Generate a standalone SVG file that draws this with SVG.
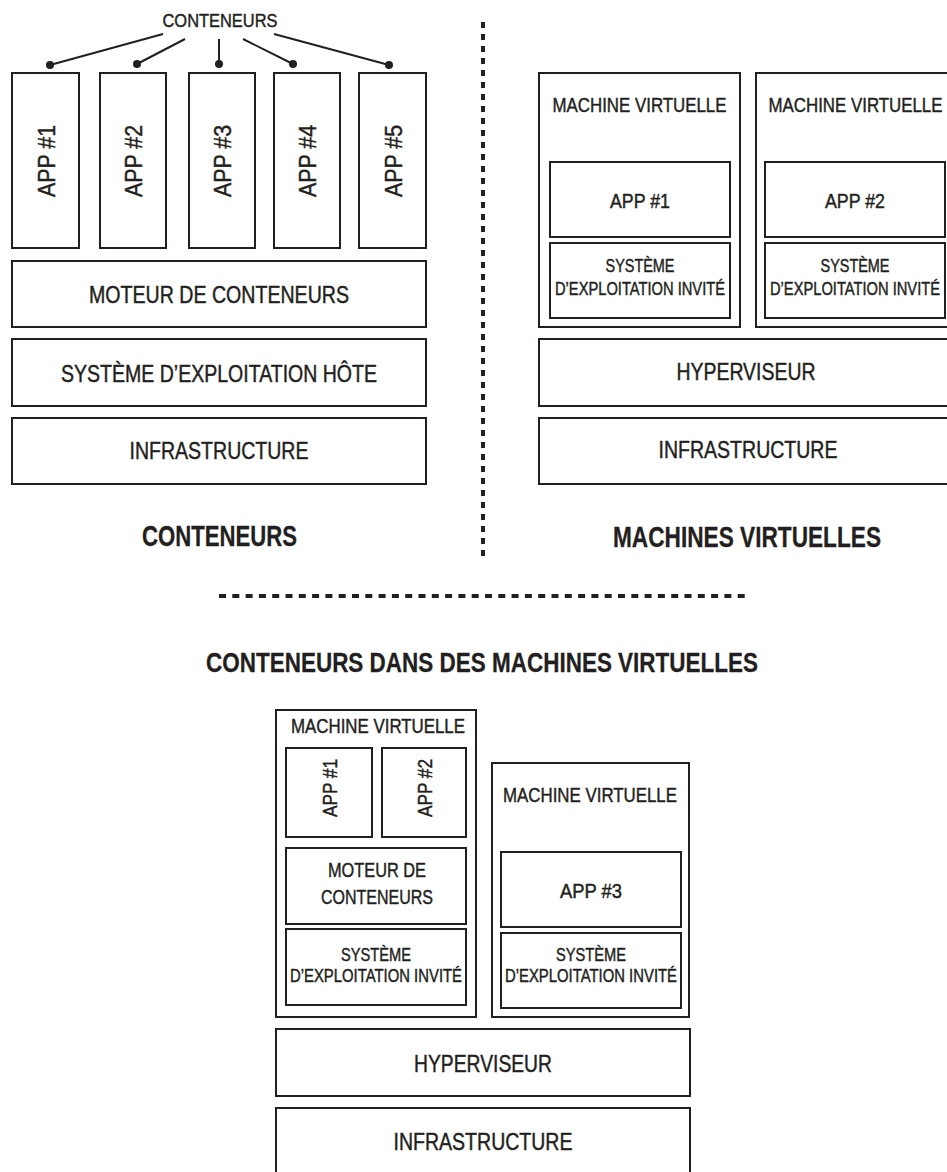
<svg xmlns="http://www.w3.org/2000/svg" width="947" height="1172" viewBox="0 0 947 1172">
<style>
.b{fill:#fff;stroke:#231f20;stroke-width:2}
text{font-family:"Liberation Sans",Arial,sans-serif;fill:#231f20;stroke:#231f20;stroke-width:0.45;text-anchor:middle}
.t24{font-size:24px}
.t21{font-size:21px}
.t18{font-size:18.5px}
.t19{font-size:19px}
.h{font-size:30px;font-weight:bold;stroke-width:0.3}
.h27{font-size:27px;font-weight:bold;stroke-width:0.3}
.c{stroke:#231f20;stroke-width:2;fill:none}
.d{fill:#231f20}
</style>
<rect width="947" height="1172" fill="#fff"/>

<!-- separators -->
<line x1="483" y1="22" x2="483" y2="562" stroke="#231f20" stroke-width="4" stroke-dasharray="6 6"/>
<line x1="219" y1="596" x2="745" y2="596" stroke="#231f20" stroke-width="4" stroke-dasharray="7 6.3"/>

<!-- LEFT: CONTENEURS -->
<g id="label-conteneurs"><text class="t19" x="220" y="27" textLength="115" lengthAdjust="spacingAndGlyphs">CONTENEURS</text></g>
<g id="connectors">
<line class="c" x1="163" y1="34" x2="50" y2="65"/>
<line class="c" x1="185" y1="39" x2="137" y2="64"/>
<line class="c" x1="219" y1="39" x2="219" y2="64"/>
<line class="c" x1="243" y1="39" x2="293" y2="64"/>
<line class="c" x1="274" y1="34" x2="389" y2="65"/>
<circle class="d" cx="50" cy="65" r="4"/>
<circle class="d" cx="137" cy="64" r="4"/>
<circle class="d" cx="219" cy="64" r="4"/>
<circle class="d" cx="293" cy="64" r="4"/>
<circle class="d" cx="389" cy="65" r="4"/>
</g>
<g id="c-app1"><rect class="b" x="12" y="73" width="67" height="175"/><text class="t24" transform="translate(54.5,161) rotate(-90)" textLength="72" lengthAdjust="spacingAndGlyphs">APP #1</text></g>
<g id="c-app2"><rect class="b" x="100" y="73" width="66" height="175"/><text class="t24" transform="translate(142,161) rotate(-90)" textLength="72" lengthAdjust="spacingAndGlyphs">APP #2</text></g>
<g id="c-app3"><rect class="b" x="189" y="73" width="66" height="175"/><text class="t24" transform="translate(231,161) rotate(-90)" textLength="72" lengthAdjust="spacingAndGlyphs">APP #3</text></g>
<g id="c-app4"><rect class="b" x="274" y="73" width="66" height="175"/><text class="t24" transform="translate(316,161) rotate(-90)" textLength="72" lengthAdjust="spacingAndGlyphs">APP #4</text></g>
<g id="c-app5"><rect class="b" x="359" y="73" width="67" height="175"/><text class="t24" transform="translate(401.5,161) rotate(-90)" textLength="72" lengthAdjust="spacingAndGlyphs">APP #5</text></g>
<g id="c-moteur"><rect class="b" x="12" y="261" width="414" height="66"/><text class="t24" x="219" y="303" textLength="260" lengthAdjust="spacingAndGlyphs">MOTEUR DE CONTENEURS</text></g>
<g id="c-os"><rect class="b" x="12" y="339" width="414" height="67"/><text class="t24" x="219" y="382" textLength="316" lengthAdjust="spacingAndGlyphs">SYSTÈME D’EXPLOITATION HÔTE</text></g>
<g id="c-infra"><rect class="b" x="12" y="418" width="414" height="66"/><text class="t24" x="219" y="459" textLength="179" lengthAdjust="spacingAndGlyphs">INFRASTRUCTURE</text></g>
<g id="title-conteneurs"><text class="h" x="219.5" y="546" textLength="155" lengthAdjust="spacingAndGlyphs">CONTENEURS</text></g>

<!-- RIGHT: MACHINES VIRTUELLES -->
<g id="vm1">
<rect class="b" x="539" y="73" width="201" height="254"/>
<text class="t21" x="639.5" y="112" textLength="174" lengthAdjust="spacingAndGlyphs">MACHINE VIRTUELLE</text>
</g>
<g id="vm1-app1"><rect class="b" x="550" y="162" width="180" height="75"/><text class="t21" x="640" y="208" textLength="60" lengthAdjust="spacingAndGlyphs">APP #1</text></g>
<g id="vm1-os"><rect class="b" x="550" y="243" width="180" height="75"/><text class="t18" x="640" y="272" textLength="69" lengthAdjust="spacingAndGlyphs">SYSTÈME</text><text class="t18" x="640" y="295" textLength="170" lengthAdjust="spacingAndGlyphs">D’EXPLOITATION INVITÉ</text></g>
<g id="vm2">
<rect class="b" x="756" y="73" width="201" height="254"/>
<text class="t21" x="855.5" y="112" textLength="174" lengthAdjust="spacingAndGlyphs">MACHINE VIRTUELLE</text>
</g>
<g id="vm2-app2"><rect class="b" x="765" y="162" width="180" height="75"/><text class="t21" x="855" y="208" textLength="60" lengthAdjust="spacingAndGlyphs">APP #2</text></g>
<g id="vm2-os"><rect class="b" x="765" y="243" width="180" height="75"/><text class="t18" x="855" y="272" textLength="69" lengthAdjust="spacingAndGlyphs">SYSTÈME</text><text class="t18" x="855" y="295" textLength="170" lengthAdjust="spacingAndGlyphs">D’EXPLOITATION INVITÉ</text></g>
<g id="vm-hyperviseur"><rect class="b" x="539" y="339" width="418" height="67"/><text class="t24" x="746" y="380" textLength="139" lengthAdjust="spacingAndGlyphs">HYPERVISEUR</text></g>
<g id="vm-infra"><rect class="b" x="539" y="418" width="418" height="66"/><text class="t24" x="748" y="458" textLength="179" lengthAdjust="spacingAndGlyphs">INFRASTRUCTURE</text></g>
<g id="title-vm"><text class="h" x="747" y="547" textLength="268" lengthAdjust="spacingAndGlyphs">MACHINES VIRTUELLES</text></g>

<!-- BOTTOM -->
<g id="title-mixed"><text class="h27" x="482" y="672" textLength="552" lengthAdjust="spacingAndGlyphs">CONTENEURS DANS DES MACHINES VIRTUELLES</text></g>
<g id="m-vm1">
<rect class="b" x="276" y="710" width="200" height="307"/>
<text class="t21" x="378" y="733" textLength="174" lengthAdjust="spacingAndGlyphs">MACHINE VIRTUELLE</text>
</g>
<g id="m-app1"><rect class="b" x="286" y="748" width="86" height="89"/><text class="t21" transform="translate(337,788) rotate(-90)" textLength="58" lengthAdjust="spacingAndGlyphs">APP #1</text></g>
<g id="m-app2"><rect class="b" x="382" y="748" width="84" height="89"/><text class="t21" transform="translate(432,788) rotate(-90)" textLength="58" lengthAdjust="spacingAndGlyphs">APP #2</text></g>
<g id="m-moteur"><rect class="b" x="286" y="848" width="180" height="76"/><text class="t21" x="377" y="877" textLength="98" lengthAdjust="spacingAndGlyphs">MOTEUR DE</text><text class="t21" x="377" y="904" textLength="112" lengthAdjust="spacingAndGlyphs">CONTENEURS</text></g>
<g id="m-os1"><rect class="b" x="286" y="929" width="180" height="76"/><text class="t18" x="376" y="961" textLength="70" lengthAdjust="spacingAndGlyphs">SYSTÈME</text><text class="t18" x="376" y="982" textLength="172" lengthAdjust="spacingAndGlyphs">D’EXPLOITATION INVITÉ</text></g>
<g id="m-vm2">
<rect class="b" x="492" y="763" width="197" height="254"/>
<text class="t21" x="590" y="802" textLength="174" lengthAdjust="spacingAndGlyphs">MACHINE VIRTUELLE</text>
</g>
<g id="m-app3"><rect class="b" x="501" y="852" width="180" height="75"/><text class="t21" x="591" y="898" textLength="62" lengthAdjust="spacingAndGlyphs">APP #3</text></g>
<g id="m-os2"><rect class="b" x="501" y="933" width="180" height="75"/><text class="t18" x="591" y="961" textLength="70" lengthAdjust="spacingAndGlyphs">SYSTÈME</text><text class="t18" x="591" y="982" textLength="172" lengthAdjust="spacingAndGlyphs">D’EXPLOITATION INVITÉ</text></g>
<g id="m-hyperviseur"><rect class="b" x="276" y="1029" width="414" height="67"/><text class="t24" x="483" y="1072" textLength="138" lengthAdjust="spacingAndGlyphs">HYPERVISEUR</text></g>
<g id="m-infra"><rect class="b" x="276" y="1108" width="414" height="72"/><text class="t24" x="483" y="1150" textLength="179" lengthAdjust="spacingAndGlyphs">INFRASTRUCTURE</text></g>
</svg>
